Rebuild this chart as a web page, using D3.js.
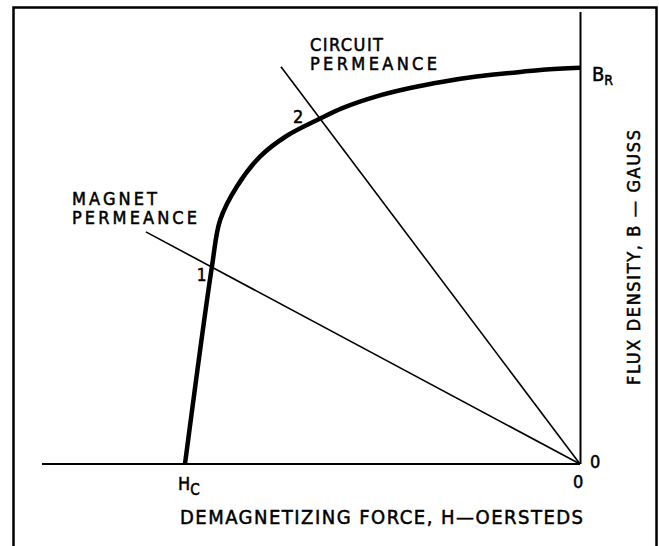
<!DOCTYPE html>
<html>
<head>
<meta charset="utf-8">
<script src="https://cdn.jsdelivr.net/npm/d3@7"></script>
<style>
  body { margin: 0; background: #fff; }
  svg text { font-family: "DejaVu Sans Condensed", "DejaVu Sans", sans-serif; fill: #000; stroke: #000; stroke-width: 0.5; }
</style>
</head>
<body>
<div id="chart"></div>
<script>
// demagnetization curve, H (negative, oersteds) vs B (gauss), normalised so Hc = -1, Br = 1
var curveH = [-1.000, -0.932, -0.911, -0.869, -0.810, -0.743, -0.658, -0.600, -0.515, -0.430, -0.347, -0.262, -0.177, -0.094, 0];
var curveB = [0.000, 0.497, 0.616, 0.700, 0.776, 0.828, 0.872, 0.899, 0.928, 0.949, 0.965, 0.978, 0.987, 0.995, 1.000];

// permeance lines, from their outer end to the origin
var magnetLineH = [-1.099, 0], magnetLineB = [0.586, 0];
var circuitLineH = [-0.757, 0], circuitLineB = [1.003, 0];

// axis extents
var hRange = [-1.362, 0];
var bRange = [0, 1.141];

var width = 659, height = 546;
var margin = {top: 12, right: 79, bottom: 82, left: 42};

var svg = d3.select('#chart').append('svg')
  .attr('width', width)
  .attr('height', height);

var x = d3.scaleLinear().domain(hRange).range([margin.left, width - margin.right]);
var y = d3.scaleLinear().domain(bRange).range([height - margin.bottom, margin.top]);

// frame
svg.append('path')
  .attr('d', 'M13.5,546V7.5H656.5V546')
  .attr('fill', 'none')
  .attr('stroke', '#000')
  .attr('stroke-width', 2.5);

// axes as plain lines
svg.append('line')
  .attr('x1', x(hRange[0])).attr('x2', x(0))
  .attr('y1', y(0)).attr('y2', y(0))
  .attr('stroke', '#000').attr('stroke-width', 2.2);

svg.append('line')
  .attr('x1', x(0) + 0.5).attr('x2', x(0) + 0.5)
  .attr('y1', y(0)).attr('y2', y(bRange[1]))
  .attr('stroke', '#000').attr('stroke-width', 2);

var line = d3.line()
  .x(function(d) { return x(d[0]); })
  .y(function(d) { return y(d[1]); });

// permeance lines
[[magnetLineH, magnetLineB], [circuitLineH, circuitLineB]].forEach(function(l) {
  svg.append('path')
    .datum(d3.zip(l[0], l[1]))
    .attr('d', line)
    .attr('fill', 'none')
    .attr('stroke', '#000')
    .attr('stroke-width', 1.6);
});

// B-H curve
svg.append('path')
  .datum(d3.zip(curveH, curveB))
  .attr('d', line.curve(d3.curveCatmullRom.alpha(0.5)))
  .attr('fill', 'none')
  .attr('stroke', '#000')
  .attr('stroke-width', 4.5)
  .attr('stroke-linecap', 'butt');

function label(txt, px, py, size, len) {
  var t = svg.append('text')
    .attr('x', px).attr('y', py)
    .attr('font-size', size)
    .text(txt);
  if (len) t.attr('textLength', len).attr('lengthAdjust', 'spacing');
  return t;
}

// line labels
label('CIRCUIT', 310, 51, 18, 73);
label('PERMEANCE', 310, 70, 18, 127);
label('MAGNET', 72, 205, 18, 85);
label('PERMEANCE', 72, 224, 18, 125);

// intersection numbers
label('2', x(curveH[6]) - 27, y(curveB[6]) + 4, 18);
label('1', x(curveH[1]) - 15, y(curveB[1]) + 14, 17);

// Br
var br = svg.append('text').attr('x', x(0) + 12).attr('y', y(1) + 13).attr('font-size', 20);
br.append('tspan').text('B');
br.append('tspan').attr('font-size', 14).attr('dy', 4).text('R');

// Hc
var hc = svg.append('text').attr('x', x(-1) - 7).attr('y', y(0) + 26).attr('font-size', 18);
hc.append('tspan').text('H');
hc.append('tspan').attr('font-size', 15).attr('dy', 5).text('C');

// origin zeros
label('0', x(0) + 10, y(0) + 4, 18);
label('0', x(0) - 7, y(0) + 24, 18);

// axis titles
label('DEMAGNETIZING FORCE, H\u2014OERSTEDS', 180, 524, 20, 403);

svg.append('text')
  .attr('transform', 'translate(640,385) rotate(-90)')
  .attr('font-size', 18)
  .attr('textLength', 255)
  .attr('lengthAdjust', 'spacing')
  .text('FLUX DENSITY, B \u2014 GAUSS');
</script>
</body>
</html>
